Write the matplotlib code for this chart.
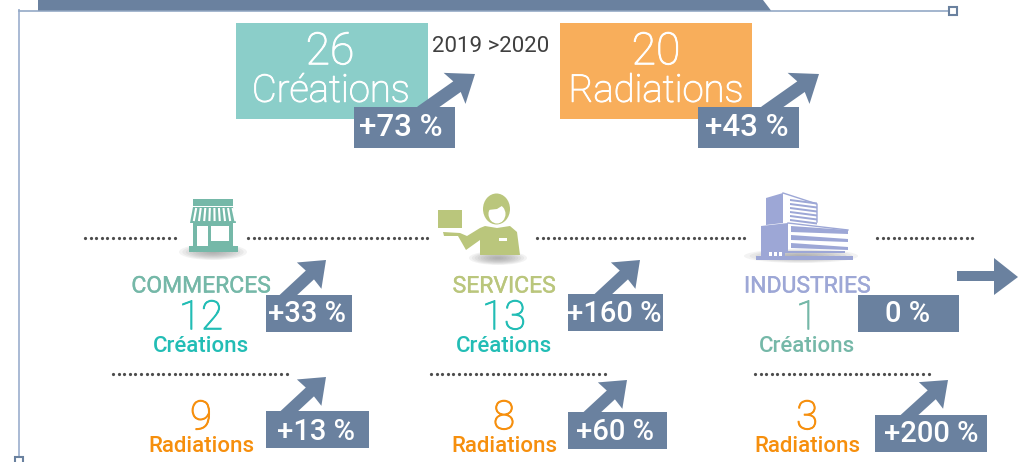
import matplotlib

matplotlib.use("Agg")
import matplotlib.patches as patches
import matplotlib.patheffects as pe
import matplotlib.pyplot as plt
import numpy as np

W, H = 1026, 462
BLUE = "#6a819f"
FRAME = "#93a9c6"
TEAL = "#8bcec9"
ORANGE_BOX = "#f8ae5b"
TURQ = "#22bdb5"
ORANGE = "#f68f0d"
GREEN = "#75b8a8"
OLIVE = "#bac67c"
LILAC = "#9da7d6"
DOTS = "#4d4d4d"

# data
totals = [26, 20]
total_labels = ["Créations", "Radiations"]
total_changes = ["+73 %", "+43 %"]
period = "2019 >2020"
sectors = ["COMMERCES", "SERVICES", "INDUSTRIES"]
creations = [12, 13, 1]
radiations = [9, 8, 3]
creation_changes = ["+33 %", "+160 %", "0 %"]
radiation_changes = ["+13 %", "+60 %", "+200 %"]

fig = plt.figure(figsize=(W / 100, H / 100), dpi=100)
ax = fig.add_axes([0, 0, 1, 1])
ax.set_xlim(0, W)
ax.set_ylim(H, 0)
ax.axis("off")
plt.rcParams["font.family"] = ["Roboto", "DejaVu Sans"]


def box(x0, y0, x1, y1, color, z=2):
    ax.add_patch(patches.Rectangle((x0, y0), x1 - x0, y1 - y0, fc=color, ec="none", zorder=z))


def poly(pts, color, z=2):
    ax.add_patch(patches.Polygon(pts, closed=True, fc=color, ec="none", zorder=z))


def label(x, y, s, size, color, weight="normal", z=5, thicken=0):
    t = ax.text(x, y, s, fontsize=size, color=color, weight=weight, ha="center", va="center", zorder=z)
    if thicken:
        # light face is a bit too thin on its own
        t.set_path_effects([pe.withStroke(linewidth=thicken, foreground=color)])


def up_arrow(x0, y0, tip_x, tip_y, head=24, half=18, shaft=6, sweep=3):
    # diagonal arrow, starts hidden behind the badge, swept back head
    p0 = np.array([x0, y0], float)
    tip = np.array([tip_x, tip_y], float)
    d = (tip - p0) / np.linalg.norm(tip - p0)
    n = np.array([-d[1], d[0]])
    barb = tip - d * head
    notch = tip - d * (head - sweep)
    pts = [p0 + n * shaft, notch + n * shaft, barb + n * half, tip, barb - n * half, notch - n * shaft, p0 - n * shaft]
    poly(pts, BLUE, z=3)


def dotted(x0, x1, y):
    xs = np.arange(x0, x1, 5.6)
    ax.plot(xs, np.full_like(xs, y), ls="none", marker="o", ms=2.3, color=DOTS, mew=0, zorder=2)


def shadow(cx, cy, rx, ry):
    for k in range(10):
        t = 1 - k / 10
        ax.add_patch(patches.Ellipse((cx, cy), 2 * rx * t, 2 * ry * t, fc="#8c8c8c", ec="none", alpha=0.1, zorder=1))


# header band and frame
ax.plot([19, 19], [10, 455], color="#a9bad4", lw=1.4, zorder=1)
ax.plot([19, 950], [10.5, 10.5], color=FRAME, lw=1.2, zorder=1)
poly([(38, 0), (763, 0), (771, 10.5), (38, 10.5)], BLUE)
ax.add_patch(patches.Rectangle((949, 6.5), 8, 8, fc="white", ec=BLUE, lw=1.5, zorder=3))
ax.add_patch(patches.Rectangle((15, 457), 8, 8, fc="white", ec=BLUE, lw=1.5, zorder=3))

# top boxes
box(236, 23, 428, 119, TEAL)
box(560, 23, 752, 119, ORANGE_BOX)
label(330, 52, str(totals[0]), 32, "white", "light", thicken=0.7)
label(331, 91, total_labels[0], 27.5, "white", "light", thicken=0.7)
label(656, 52, str(totals[1]), 32, "white", "light", thicken=0.7)
label(656, 91, total_labels[1], 27.5, "white", "light", thicken=0.7)
label(491, 47, period, 16, "#404040")
up_arrow(421, 112, 475, 74, head=25, half=19, shaft=6.5)
up_arrow(765, 112, 819, 74, head=25, half=19, shaft=6.5)
box(354, 107, 455, 148, BLUE, z=4)
box(698, 107, 799, 148, BLUE, z=4)
label(401, 128, total_changes[0], 22.5, "white", "medium")
label(747, 128, total_changes[1], 22.5, "white", "medium")

# dotted rules
dotted(85, 180, 238)
dotted(248, 430, 238)
dotted(537, 747, 238)
dotted(877, 973, 238)
dotted(113, 288, 374)
dotted(431, 606, 374)
dotted(755, 930, 374)

# shop icon
shadow(213, 252, 34, 8)
box(193, 199, 233, 206, GREEN)
poly([(193, 207), (233, 207), (236, 223), (190, 223)], GREEN)
for x in np.arange(196, 233, 4.6):
    lean = (x - 213) * 0.12
    ax.plot([x, x + lean], [209, 220], color="white", lw=1.5, zorder=3)
box(193, 223, 233, 247, GREEN)
box(197, 226, 208, 246, "white", z=3)
box(211, 226, 229, 241, "white", z=3)
box(189, 246, 238, 251.5, GREEN, z=4)

# person icon
shadow(498, 258, 29, 7)
box(438, 210, 462, 228, OLIVE)
ax.add_patch(patches.Ellipse((496.5, 209), 27, 31, fc=OLIVE, ec="none", zorder=2))
ax.add_patch(patches.Ellipse((497, 214), 17, 19, fc="white", ec="none", zorder=3))
poly([(488, 210), (497, 209), (505, 204), (504, 200), (488, 202)], OLIVE, z=3)
poly([(485, 226), (497, 228), (510, 226), (517, 232), (520, 255), (480, 255), (480, 240),
      (466, 250), (458, 236), (444, 236), (443, 232), (460, 233), (467, 236), (480, 228)], OLIVE)
box(499, 238, 507, 241, "white", z=3)

# building icon
shadow(801, 256, 57, 7)
poly([(766, 198), (783, 193), (783, 223), (766, 225)], LILAC)
ax.plot([783, 817, 817], [193, 204, 222], color=LILAC, lw=1, zorder=2)
for k in range(6):
    y = 199 + k * 4
    poly([(790, y), (817, y + 3.5), (817, y + 5.5), (790, y + 2)], LILAC)
poly([(761, 226), (788, 223), (788, 251), (761, 251)], LILAC)
ax.plot([788, 848], [223, 230], color=LILAC, lw=1, zorder=2)
for y0, y1 in [(226, 232), (235, 240), (243, 248)]:
    poly([(791, y0), (848, y0 + 4), (848, y1 + 2), (791, y1)], LILAC)
box(756, 256, 853, 260, LILAC, z=4)
box(761, 251, 785, 256, LILAC, z=4)
box(785, 251, 845, 253, LILAC, z=4)
for x in [769, 774, 779]:
    box(x, 252, x + 3, 255.5, "white", z=5)

# sector columns
name_x = [201, 504, 807]
name_colors = [GREEN, OLIVE, LILAC]
creation_colors = [TURQ, TURQ, GREEN]
for i in range(3):
    label(name_x[i], 286, sectors[i], 16.5, name_colors[i], thicken=0.3)
    label(name_x[i], 318, str(creations[i]), 29, creation_colors[i], "light", thicken=0.7)
    label(name_x[i], 346, "Créations", 16, creation_colors[i], "medium")
    label(name_x[i], 418, str(radiations[i]), 29, ORANGE, "light", thicken=0.7)
    label(name_x[i], 446, "Radiations", 16, ORANGE, "medium")

# creation badges
up_arrow(283, 300, 326, 260, head=23, half=18, shaft=6, sweep=1)
up_arrow(598, 299, 640, 260, head=23, half=18, shaft=6, sweep=1)
poly([(957, 271), (994, 271), (994, 258), (1018, 277), (994, 295), (994, 281), (957, 281)], BLUE, z=3)
box(266, 295, 352, 332, BLUE, z=4)
box(568, 294, 663, 331, BLUE, z=4)
box(858, 295, 959, 332, BLUE, z=4)
label(307, 314, creation_changes[0], 21, "white", "medium")
label(614, 314, creation_changes[1], 21, "white", "medium")
label(908, 314, creation_changes[2], 21, "white", "medium")

# radiation badges
up_arrow(284, 416, 326, 377, head=23, half=18, shaft=6, sweep=1)
up_arrow(587, 417, 627, 380, head=23, half=18, shaft=6, sweep=1)
up_arrow(904, 420, 948, 380, head=23, half=18, shaft=6, sweep=1)
box(266, 411, 369, 448, BLUE, z=4)
box(568, 412, 667, 449, BLUE, z=4)
box(875, 415, 987, 452, BLUE, z=4)
label(316, 432, radiation_changes[0], 21, "white", "medium")
label(615, 432, radiation_changes[1], 21, "white", "medium")
label(931, 434, radiation_changes[2], 21, "white", "medium")

fig.savefig("out.png", dpi=100, facecolor="white")
